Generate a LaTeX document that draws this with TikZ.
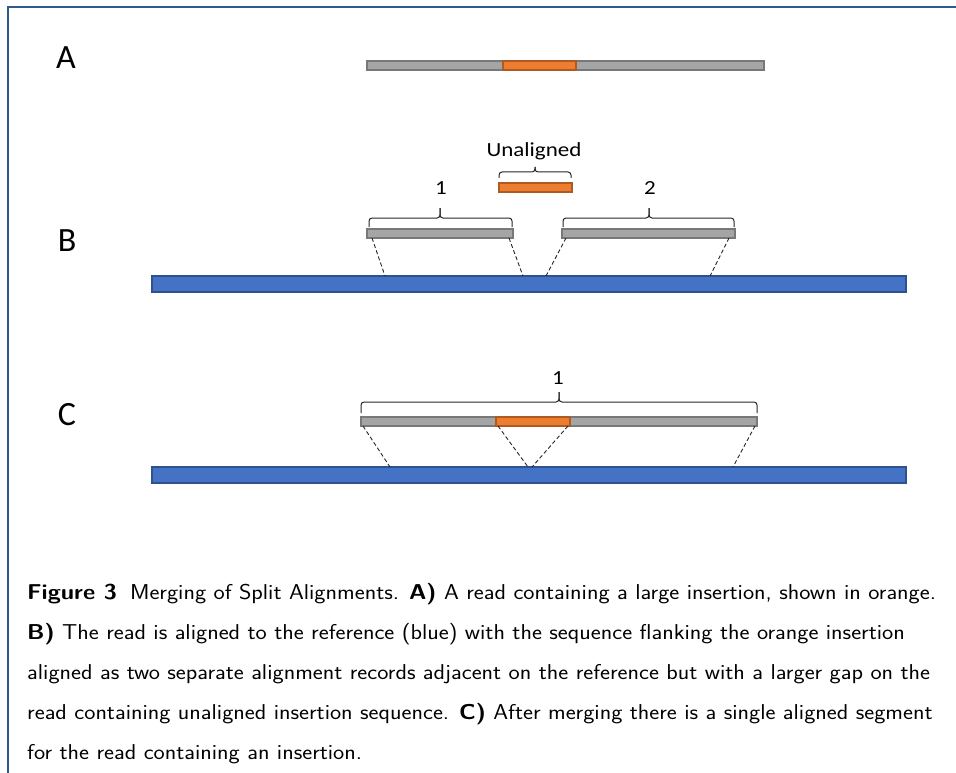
\documentclass[tikz,border=0pt]{standalone}
\usepackage{fontspec}
\newfontfamily\labelfont{Carlito}
\usetikzlibrary{calc}
\definecolor{refblue}{HTML}{4472C4}
\definecolor{refblueedge}{HTML}{2F528F}
\definecolor{readgray}{HTML}{A5A5A5}
\definecolor{readgrayedge}{HTML}{787878}
\definecolor{insorange}{HTML}{ED7D31}
\definecolor{insorangeedge}{HTML}{AE5A21}
\definecolor{framecol}{HTML}{2E5A8C}
\tikzset{
  bar/.style={draw, inner sep=0pt, outer sep=0pt, line width=1.1pt, anchor=north west},
  readbar/.style={bar, fill=readgray, draw=readgrayedge, minimum height=9pt},
  insbar/.style={bar, fill=insorange, draw=insorangeedge, minimum height=9pt},
  refbar/.style={bar, fill=refblue, draw=refblueedge, minimum height=16pt, minimum width=754pt},
  alignline/.style={dash pattern=on 4pt off 2.5pt, line width=0.9pt, draw=black!85},
  bracepath/.style={line width=1pt, rounded corners=3pt, draw=black!85},
  panel/.style={font=\labelfont\fontsize{34}{34}\selectfont, anchor=base, inner sep=0pt},
  tag/.style={font=\labelfont\fontsize{20}{20}\selectfont, anchor=base, inner sep=0pt, xscale=1.15, transform shape},
  caption/.style={font=\sffamily\fontsize{21.5}{24}\selectfont, anchor=base west, inner sep=0pt, xscale=1.105, transform shape},
}
\begin{document}
\begin{tikzpicture}[x=1pt,y=-1pt]
\useasboundingbox (0,0) rectangle (956,773);

% frame
\draw[framecol, line width=1.3pt] (8,773) -- (8,7) -- (956,7);

% ---------- A: read with insertion ----------
\node[panel] (labA) at (66,69) {A};
\node[readbar, minimum width=397pt] (readA) at (367,61) {};
\node[insbar, minimum width=73pt] (insA) at (503,61) {};

% ---------- B: split alignment ----------
\node[panel] (labB) at (67,251) {B};
\node[tag] (unal) at (534,157) {Unaligned};
\draw[bracepath] (499,178) -- (499,172) -- (535,172) -- (535,167);
\draw[bracepath] (571,178) -- (571,172) -- (535,172) -- (535,167);
\node[insbar, minimum width=73pt] (insB) at (499,183) {};

\node[tag] (numB1) at (441,194) {1};
\node[tag] (numB2) at (650,194) {2};
\draw[bracepath] (369,227) -- (369,218) -- (440,218) -- (440,208);
\draw[bracepath] (512,227) -- (512,218) -- (440,218) -- (440,208);
\draw[bracepath] (563,227) -- (563,218) -- (649,218) -- (649,208);
\draw[bracepath] (734,227) -- (734,218) -- (649,218) -- (649,208);

\node[readbar, minimum width=146pt] (segB1) at (367,229) {};
\node[readbar, minimum width=173pt] (segB2) at (562,229) {};
\node[refbar] (refB) at (152,276) {};

\coordinate (hitB1) at (385,276);
\coordinate (hitB2) at (523,276);
\coordinate (hitB3) at (546,276);
\coordinate (hitB4) at (710,276);
\draw[alignline] ([xshift=5pt]segB1.south west) -- (hitB1);
\draw[alignline] ([xshift=-4pt]segB1.south east) -- (hitB2);
\draw[alignline] ([xshift=4pt]segB2.south west) -- (hitB3);
\draw[alignline] ([xshift=-6pt]segB2.south east) -- (hitB4);

% ---------- C: merged alignment ----------
\node[panel] (labC) at (67,425) {C};
\node[tag] (numC1) at (558,384) {1};
\draw[bracepath] (361,413) -- (361,402) -- (559,402) -- (559,392);
\draw[bracepath] (757,413) -- (757,402) -- (559,402) -- (559,392);

\node[readbar, minimum width=396pt] (readC) at (361,417) {};
\node[insbar, minimum width=74pt] (insC) at (496,417) {};
\node[refbar] (refC) at (152,467) {};

\coordinate (hitC1) at (390,467);
\coordinate (hitC2) at (528,467);
\coordinate (hitC3) at (532,467);
\coordinate (hitC4) at (733,467);
\draw[alignline] ([xshift=2pt]readC.south west) -- (hitC1);
\draw[alignline] ([xshift=2pt]insC.south west) -- (hitC2);
\draw[alignline] ([xshift=-2pt]insC.south east) -- (hitC3);
\draw[alignline] ([xshift=-2pt]readC.south east) -- (hitC4);

% ---------- caption ----------
\node[caption] (cap1) at (27,599) {\textbf{Figure 3}\hspace{0.55em}Merging of Split Alignments. \textbf{A)} A read containing a large insertion, shown in orange.};
\node[caption] (cap2) at (27,639) {\textbf{B)} The read is aligned to the reference (blue) with the sequence flanking the orange insertion};
\node[caption] (cap3) at (27,679) {aligned as two separate alignment records adjacent on the reference but with a larger gap on the};
\node[caption] (cap4) at (27,719) {read containing unaligned insertion sequence. \textbf{C)} After merging there is a single aligned segment};
\node[caption] (cap5) at (27,759) {for the read containing an insertion.};
\end{tikzpicture}
\end{document}
